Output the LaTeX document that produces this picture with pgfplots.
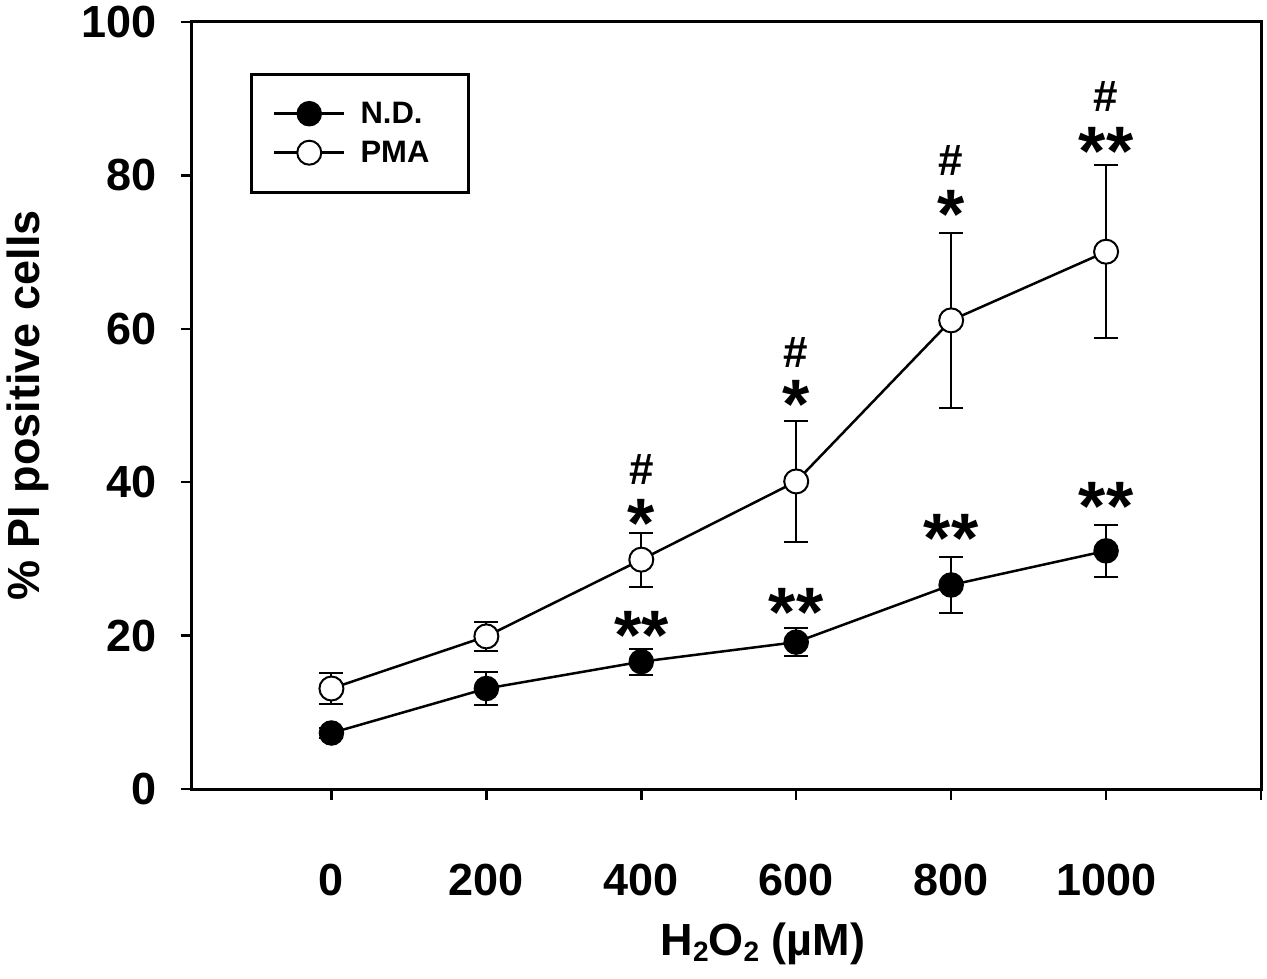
\documentclass[border=0pt]{standalone}
\usepackage{pgfplots}
\pgfplotsset{compat=1.18}
\usepackage{fontspec}
\setmainfont{Liberation Sans}

\pgfplotstableread{
x y e
0 7.3 0.6
200 13.1 2.1
400 16.6 1.7
600 19.15 1.85
800 26.6 3.6
1000 31.05 3.35
}\nd
\pgfplotstableread{
x y e
0 13.1 2.0
200 19.9 1.85
400 29.9 3.5
600 40.1 7.85
800 61.1 11.4
1000 70.05 11.25
}\pma

\tikzset{
  star/.style={font=\fontsize{70}{70}\selectfont\bfseries, inner sep=0pt, anchor=base, yshift=-34pt},
  hashmark/.style={font=\fontsize{44}{44}\selectfont\bfseries, inner sep=0pt, anchor=center},
}

\begin{document}
\begin{tikzpicture}
\useasboundingbox (-192pt,-189pt) rectangle (1075pt,789pt);
\begin{axis}[
  at={(0pt,0pt)}, anchor=south west,
  scale only axis, width=1069pt, height=767pt,
  xmin=-180, xmax=1200, ymin=0, ymax=100,
  xtick={0,200,400,600,800,1000,1200},
  xticklabels={0,200,400,600,800,1000,{}},
  ytick={0,20,40,60,80,100},
  tick align=outside,
  xtick pos=bottom, ytick pos=left,
  major tick length=11pt,
  every tick/.style={black, line width=2.5pt},
  axis line style={line width=3pt},
  /pgf/number format/assume math mode=true,
  xticklabel style={font=\fontsize{45}{54}\selectfont\bfseries, anchor=base, inner sep=0pt, yshift=-95pt},
  yticklabel style={font=\fontsize{45}{54}\selectfont\bfseries, anchor=east, inner sep=0pt, xshift=-24pt},
  xlabel={H\raisebox{-6.4pt}{\fontsize{28}{28}\selectfont 2}O\raisebox{-6.4pt}{\fontsize{28}{28}\selectfont 2} (µM)},
  ylabel={\% PI positive cells},
  every axis x label/.style={at={([yshift=-166pt]axis description cs:0.534,0)}, anchor=base, inner sep=0pt, font=\fontsize{45}{54}\selectfont\bfseries},
  every axis y label/.style={at={([xshift=-152pt]axis description cs:0,0.5)}, anchor=base, rotate=90, inner sep=0pt, font=\fontsize{45}{54}\selectfont\bfseries},
  legend style={at={(axis description cs:0.0538,0.9339)}, anchor=north west, draw=black, line width=3pt, fill=white,
    inner xsep=22pt, inner ysep=27.5pt, row sep=15pt,
    font=\fontsize{31}{37}\selectfont\bfseries, nodes={inner sep=0pt}},
  legend cell align=left,
  legend image code/.code={\draw[mark repeat=2,mark phase=2] plot coordinates {(0pt,0pt)(35pt,0pt)(70pt,0pt)};},
]
% error bars first, so the markers cover them
\addplot[forget plot, draw=none, mark=none,
  error bars/.cd, y dir=both, y explicit,
  error bar style={line width=2pt, draw=black},
  error mark options={rotate=90, line width=2pt, mark size=12pt, draw=black}]
  table[x=x, y=y, y error=e] {\nd};
\addplot[forget plot, draw=none, mark=none,
  error bars/.cd, y dir=both, y explicit,
  error bar style={line width=2pt, draw=black},
  error mark options={rotate=90, line width=2pt, mark size=12pt, draw=black}]
  table[x=x, y=y, y error=e] {\pma};

\addplot[black, line width=2.5pt, mark=*, mark size=12pt, mark options={fill=black, line width=1.5pt}]
  table[x=x, y=y] {\nd};
\addlegendentry{\hspace*{15pt}\makebox[86pt][l]{N.D.}}
\addplot[black, line width=2.5pt, mark=*, mark size=12pt, mark options={fill=white, line width=2pt}]
  table[x=x, y=y] {\pma};
\addlegendentry{\hspace*{15pt}\makebox[86pt][l]{PMA}}

\node[star] at (axis cs:400,21.3) {**};
\node[star] at (axis cs:600,24.3) {**};
\node[star] at (axis cs:800,34.0) {**};
\node[star] at (axis cs:1000,38.1) {**};
\node[star] at (axis cs:400,35.9) {*};
\node[star] at (axis cs:600,51.4) {*};
\node[star] at (axis cs:800,76.2) {*};
\node[star] at (axis cs:1000,84.4) {**};
\node[hashmark] at (axis cs:400,41.6) {\#};
\node[hashmark] at (axis cs:600,56.9) {\#};
\node[hashmark] at (axis cs:800,81.9) {\#};
\node[hashmark] at (axis cs:1000,90.3) {\#};
\end{axis}
\end{tikzpicture}
\end{document}
